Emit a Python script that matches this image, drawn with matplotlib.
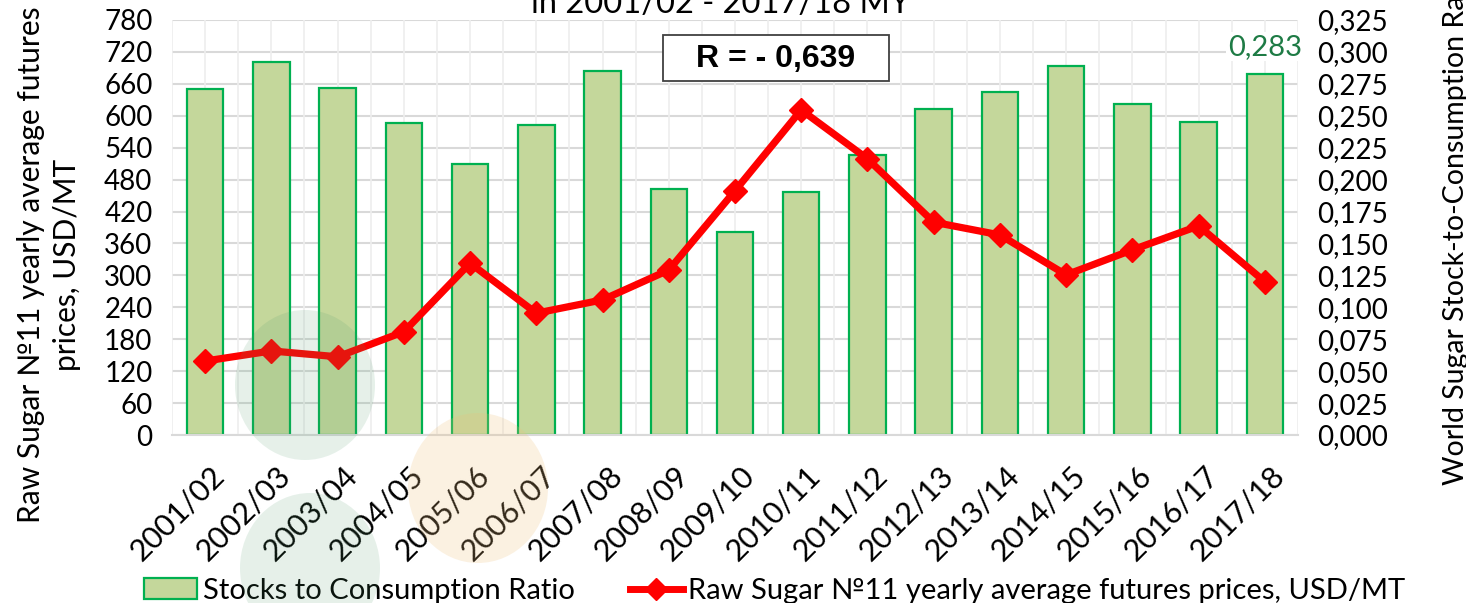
import matplotlib
matplotlib.use("Agg")
import matplotlib.pyplot as plt
from matplotlib.patches import Ellipse, Rectangle, Patch
from matplotlib.lines import Line2D
import matplotlib.transforms as mtransforms

plt.rcParams['font.family'] = ['Lato', 'DejaVu Sans']

seasons = ["2001/02", "2002/03", "2003/04", "2004/05", "2005/06", "2006/07", "2007/08",
           "2008/09", "2009/10", "2010/11", "2011/12", "2012/13", "2013/14", "2014/15",
           "2015/16", "2016/17", "2017/18"]
stocks_ratio = [0.271, 0.292, 0.272, 0.244, 0.212, 0.243, 0.285, 0.193, 0.159, 0.190,
                0.219, 0.255, 0.269, 0.289, 0.259, 0.245, 0.283]
prices = [139, 158, 147, 194, 323, 229, 254, 310, 459, 611, 519, 400, 376, 301, 348, 393, 288]
left_ticks = list(range(0, 781, 60))
right_ticks = [i * 0.025 for i in range(14)]
title_text = "in 2001/02 - 2017/18 MY"
r_text = "R = - 0,639"

W, H = 1466, 603
fig = plt.figure(figsize=(W / 100, H / 100), dpi=100)
ax = fig.add_axes([172 / W, 1 - 435 / H, (1298 - 172) / W, (435 - 20) / H])
ax2 = ax.twinx()

x = list(range(len(seasons)))

# bars on secondary axis (right)
ax2.bar(x, stocks_ratio, width=0.55, color='#c4d79b', edgecolor='#00b050', linewidth=1.6, zorder=2)
ax2.set_ylim(0, 0.325)
ax2.set_yticks(right_ticks)
ax2.set_yticklabels([f"{v:.3f}".replace('.', ',') for v in right_ticks], fontsize=20)
ax2.tick_params(axis='y', length=0, pad=14)

# line on primary axis (left), drawn above bars
ax.set_zorder(ax2.get_zorder() + 1)
ax.patch.set_visible(False)
ax.plot(x, prices, color='#ff0000', linewidth=5.2, marker='D', markersize=12.5,
        markerfacecolor='#ff0000', markeredgecolor='#ff0000', zorder=5, clip_on=False)
ax.set_ylim(0, 780)
ax.set_xlim(-0.5, len(seasons) - 0.5)
ax.set_yticks(left_ticks)
ax.set_yticklabels([str(v) for v in left_ticks], fontsize=20)
ax.tick_params(axis='y', length=0, pad=14)
ax.set_xticks(x)
ax.set_xticklabels(seasons, fontsize=22, rotation=45, ha='right', va='top', rotation_mode='anchor')
ax.tick_params(axis='x', length=0, pad=19)
offset = mtransforms.ScaledTranslation(5 / 100, 0, fig.dpi_scale_trans)
for lbl in ax.get_xticklabels():
    lbl.set_transform(lbl.get_transform() + offset)

# gridlines
for v in right_ticks:
    ax2.axhline(v, color='#d9d9d9', linewidth=1.5, zorder=0)
for i in range(2 * len(seasons) + 1):
    ax2.axvline(-0.5 + i * 0.5, color='#eeeeee', linewidth=1.2, zorder=0)

for a in (ax, ax2):
    for s in a.spines.values():
        s.set_visible(False)
ax2.spines['bottom'].set_visible(True)
ax2.spines['bottom'].set_color('#d9d9d9')
ax2.spines['bottom'].set_linewidth(1.5)

# data label on last bar
ax2.text(x[-1], stocks_ratio[-1] + 0.011, f"{stocks_ratio[-1]:.3f}".replace('.', ','),
         color='#1e7b45', fontsize=21, ha='center', va='bottom', zorder=6,
         bbox=dict(facecolor='white', edgecolor='none', pad=1))

# R box
fig.patches.append(Rectangle((663 / W, 1 - 81 / H), (889 - 663) / W, (81 - 35) / H,
                             transform=fig.transFigure, facecolor='white',
                             edgecolor='#404040', linewidth=1.3, zorder=8))
t = fig.text((663 + 889) / 2 / W, 1 - 59 / H, r_text, fontsize=23, fontweight='bold',
             family='Liberation Sans', ha='center', va='center')
t.set_zorder(9)

# title (cut at top)
fig.text(721 / W, 1 - 13 / H, title_text, fontsize=23.5, ha='center', va='baseline')

# axis labels
fig.text(49 / W, 1 - 265 / H, "Raw Sugar №11 yearly average futures\nprices, USD/MT",
         rotation=90, fontsize=21.5, ha='center', va='center', multialignment='center',
         linespacing=1.35)
fig.text(1456 / W, 1 - 485 / H, "World Sugar Stock-to-Consumption Ratio",
         rotation=90, fontsize=20.5, ha='center', va='bottom')

# watermark circles
for cx, cy, col, al in [(305, 385, '#4f9a6a', 0.14), (310, 568, '#4f9a6a', 0.14),
                        (478, 488, '#efc07a', 0.22)]:
    e = Ellipse((cx / W, 1 - cy / H), 140 / W, 150 / H, transform=fig.transFigure,
                facecolor=col, edgecolor='none', alpha=al, zorder=10)
    fig.patches.append(e)

# legend
handles = [Patch(facecolor='#c4d79b', edgecolor='#00b050', linewidth=1.6),
           Line2D([0], [0], color='#ff0000', linewidth=5, marker='D', markersize=11)]
labels = ["Stocks to Consumption Ratio", "Raw Sugar №11 yearly average futures prices, USD/MT"]
fig.legend(handles, labels, loc='lower center', bbox_to_anchor=(775 / W, -0.045), ncol=2,
           frameon=False, fontsize=21, handlelength=1.8, handletextpad=0.2, columnspacing=1.9)

fig.savefig("out.png", dpi=100)
